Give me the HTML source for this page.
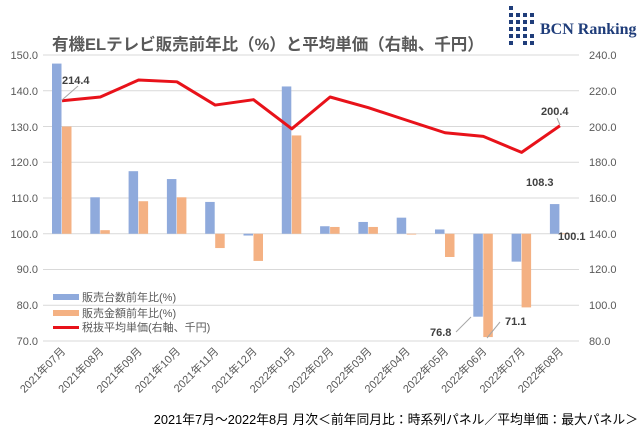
<!DOCTYPE html>
<html><head><meta charset="utf-8"><style>
body{margin:0;background:#fff;}
svg{font-family:"Liberation Sans","Noto Sans CJK JP",sans-serif;}
</style></head><body>
<svg width="644" height="432" xmlns="http://www.w3.org/2000/svg">
<rect width="644" height="432" fill="#fff"/>
<g fill="#1f3d7a">
<rect x="509" y="6" width="4" height="4"/><rect x="509" y="13" width="4" height="4"/><rect x="509" y="20" width="4" height="4"/><rect x="509" y="27" width="4" height="4"/><rect x="509" y="34" width="4" height="4"/><rect x="509" y="41" width="4" height="4"/>
<rect x="516" y="13" width="4" height="4"/><rect x="516" y="20" width="4" height="4"/><rect x="516" y="27" width="4" height="4"/><rect x="516" y="34" width="4" height="4"/>
<rect x="523" y="13" width="4" height="4"/><rect x="523" y="20" width="4" height="4"/><rect x="523" y="27" width="4" height="4"/><rect x="523" y="34" width="4" height="4"/><rect x="523" y="41" width="4" height="4"/>
<rect x="530" y="13" width="4" height="4"/><rect x="530" y="20" width="4" height="4"/><rect x="530" y="34" width="4" height="4"/><rect x="530" y="41" width="4" height="4"/>
</g>
<text x="540" y="34" font-family="Liberation Serif,serif" font-weight="bold" font-size="16" fill="#1f3d7a">BCN Ranking</text>
<text x="52" y="50" font-size="16.5" font-weight="bold" fill="#595959">有機ELテレビ販売前年比（%）と平均単価（右軸、千円）</text>
<g stroke="#d9d9d9" stroke-width="1">
<line x1="43" x2="579" y1="55" y2="55"/><line x1="43" x2="579" y1="90.75" y2="90.75"/><line x1="43" x2="579" y1="126.5" y2="126.5"/><line x1="43" x2="579" y1="162.25" y2="162.25"/><line x1="43" x2="579" y1="198" y2="198"/><line x1="43" x2="579" y1="233.75" y2="233.75"/><line x1="43" x2="579" y1="269.5" y2="269.5"/><line x1="43" x2="579" y1="305.25" y2="305.25"/><line x1="43" x2="579" y1="341" y2="341"/>
</g>
<g font-size="11" fill="#595959">
<g text-anchor="end">
<text x="38" y="59">150.0</text><text x="38" y="95">140.0</text><text x="38" y="131">130.0</text><text x="38" y="166">120.0</text><text x="38" y="202">110.0</text><text x="38" y="238">100.0</text><text x="38" y="273">90.0</text><text x="38" y="309">80.0</text><text x="38" y="345">70.0</text>
</g>
<text x="589" y="59">240.0</text><text x="589" y="95">220.0</text><text x="589" y="131">200.0</text><text x="589" y="166">180.0</text><text x="589" y="202">160.0</text><text x="589" y="238">140.0</text><text x="589" y="273">120.0</text><text x="589" y="309">100.0</text><text x="589" y="345">80.0</text>
</g>
<g id="bars"></g>
<polyline id="ln" fill="none" stroke="#e8121a" stroke-width="3" stroke-linejoin="round"/>
<g id="xl" font-size="11" fill="#595959"></g>
<g font-size="11" font-weight="bold" fill="#404040">
<line x1="62" y1="100" x2="78" y2="86" stroke="#a6a6a6"/>
<text x="62" y="84">214.4</text>
<text x="541" y="115">200.4</text>
<line x1="560" y1="125" x2="557" y2="118" stroke="#a6a6a6"/>
<text x="526" y="186">108.3</text>
<text x="558" y="240">100.1</text>
<text x="430" y="336">76.8</text>
<line x1="456" y1="332" x2="471" y2="317" stroke="#a6a6a6"/>
<text x="505" y="325">71.1</text>
<line x1="487" y1="338" x2="500" y2="322" stroke="#a6a6a6"/>
</g>
<rect x="53" y="294" width="26" height="6" fill="#8faadc"/>
<text x="82" y="301" font-size="11" fill="#595959">販売台数前年比(%)</text>
<rect x="53" y="310" width="26" height="6" fill="#f4b183"/>
<text x="82" y="317" font-size="11" fill="#595959">販売金額前年比(%)</text>
<rect x="53" y="326" width="26" height="3" fill="#e8121a"/>
<text x="82" y="331" font-size="11" fill="#595959">税抜平均単価(右軸、千円)</text>
<text x="638" y="424" text-anchor="end" font-size="12.8" fill="#000">2021年7月～2022年8月 月次＜前年同月比：時系列パネル／平均単価：最大パネル＞</text>
<script>
var b=[147.6,110.2,117.5,115.3,108.9,99.5,141.2,102.1,103.3,104.5,101.2,76.8,92.2,108.3];
var o=[130.0,101.0,109.1,110.2,96.0,92.4,127.5,101.9,101.9,100,93.5,71.1,79.4,100.1];
var l=[214.4,216.5,226,225,212,215,198.7,216.5,210.5,203.5,196.5,194.5,185.5,200.4];
var labs=["2021年07月","2021年08月","2021年09月","2021年10月","2021年11月","2021年12月","2022年01月","2022年02月","2022年03月","2022年04月","2022年05月","2022年06月","2022年07月","2022年08月"];
function yl(v){return 55+(150-v)*3.575;}function yr(v){return 55+(240-v)*1.7875;}
var ns="http://www.w3.org/2000/svg",g=document.getElementById("bars"),x=document.getElementById("xl"),pts=[];
var y0=yl(100);
for(var i=0;i<14;i++){var c=62+38.3*i;
[[b[i],c-10,"#8faadc"],[o[i],c,"#f4b183"]].forEach(function(a){var r=document.createElementNS(ns,"rect");var y=yl(a[0]);r.setAttribute("x",a[1]);r.setAttribute("width",9.5);r.setAttribute("y",Math.min(y,y0));r.setAttribute("height",Math.max(Math.abs(y-y0),0.8));r.setAttribute("fill",a[2]);g.appendChild(r);});
pts.push(c+","+yr(l[i]));
var t=document.createElementNS(ns,"text");t.setAttribute("text-anchor","end");t.setAttribute("transform","translate("+(c+4)+",352) rotate(-45)");t.textContent=labs[i];x.appendChild(t);}
document.getElementById("ln").setAttribute("points",pts.join(" "));
</script>
</svg>
</body></html>
